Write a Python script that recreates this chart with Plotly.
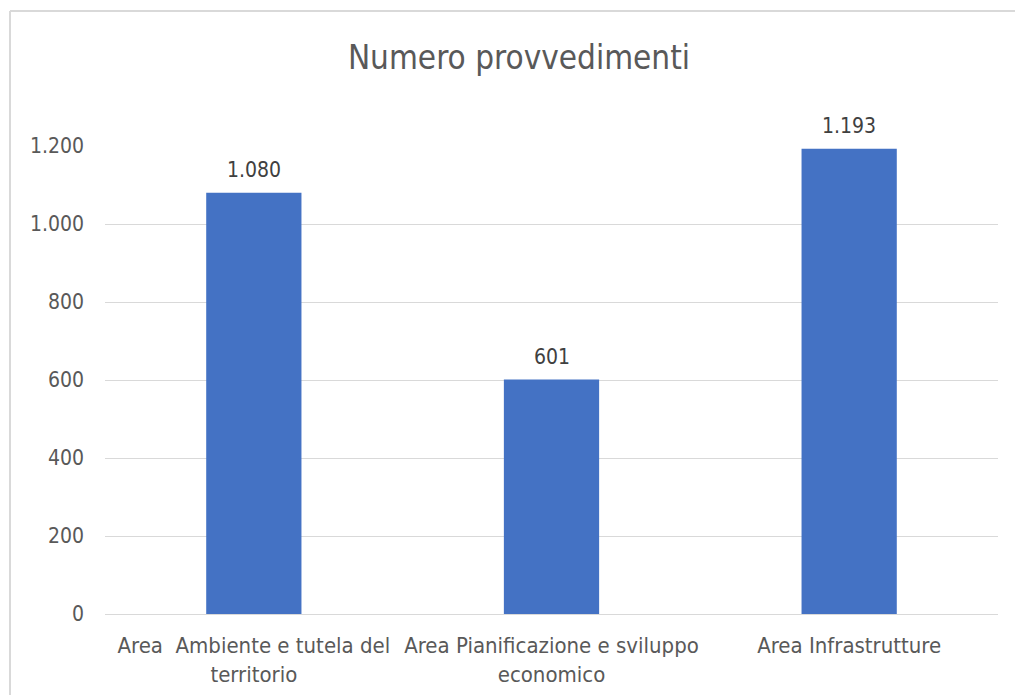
import plotly.graph_objects as go

categories = ["Area  Ambiente e tutela del<br>territorio",
              "Area Pianificazione e sviluppo<br>economico",
              "Area Infrastrutture"]
values = [1080, 601, 1193]
y_ticks = [0, 200, 400, 600, 800, 1000, 1200]

FONT = "DejaVu Sans Condensed, Liberation Sans Narrow, Open Sans, sans-serif"
W, H = 1015, 695
L, R, T, B = 105, W - 998, 146, H - 614
pw, ph = W - L - R, H - T - B

bx0 = (10 - L) / pw
bx1 = (W + 20 - L) / pw
by0 = -(B + 20) / ph
by1 = 1 + (T - 11) / ph

fig = go.Figure(go.Bar(
    x=categories, y=values,
    marker=dict(color="#4472C4", line=dict(width=0)),
    width=0.32,
    cliponaxis=False,
    hoverinfo="skip",
))

for c, v in zip(categories, values):
    fig.add_annotation(x=c, y=v, text=f"{v:,}".replace(",", "."),
                       showarrow=False, yanchor="bottom", yshift=9,
                       font=dict(family=FONT, size=21, color="#404040"))

border = dict(color="#d9d9d9", width=2)
fig.update_layout(
    width=W, height=H,
    margin=dict(l=L, r=R, t=T, b=B, autoexpand=False),
    paper_bgcolor="white", plot_bgcolor="white",
    separators=",.",
    showlegend=False,
    title=dict(text="Numero provvedimenti", x=519 / W, xanchor="center",
               y=1 - 57 / H, yanchor="middle", yref="container",
               font=dict(family=FONT, size=33, color="#595959")),
    font=dict(family=FONT, color="#595959"),
    shapes=[
        dict(type="line", xref="paper", yref="paper",
             x0=bx0, x1=bx0, y0=by0, y1=by1, line=border, layer="below"),
        dict(type="line", xref="paper", yref="paper",
             x0=bx0, x1=bx1, y0=by1, y1=by1, line=border, layer="below"),
    ],
)
fig.update_yaxes(range=[0, 1200], tickvals=y_ticks, tickformat=",d",
                 showgrid=True, gridcolor="#d9d9d9", gridwidth=1,
                 zeroline=False, showline=False, ticks="", automargin=False,
                 ticklabelstandoff=20,
                 tickfont=dict(family=FONT, size=21, color="#595959"))
fig.update_xaxes(showline=True, linecolor="#d9d9d9", linewidth=1,
                 ticks="", showgrid=False, automargin=False,
                 ticklabelstandoff=12,
                 tickfont=dict(family=FONT, size=22, color="#595959"))

fig.write_html(
    "out.html",
    config={"displayModeBar": False},
    post_script=("document.body.style.margin='0';"
                 "document.body.style.overflow='hidden';"
                 "document.documentElement.style.overflow='hidden';"),
)
